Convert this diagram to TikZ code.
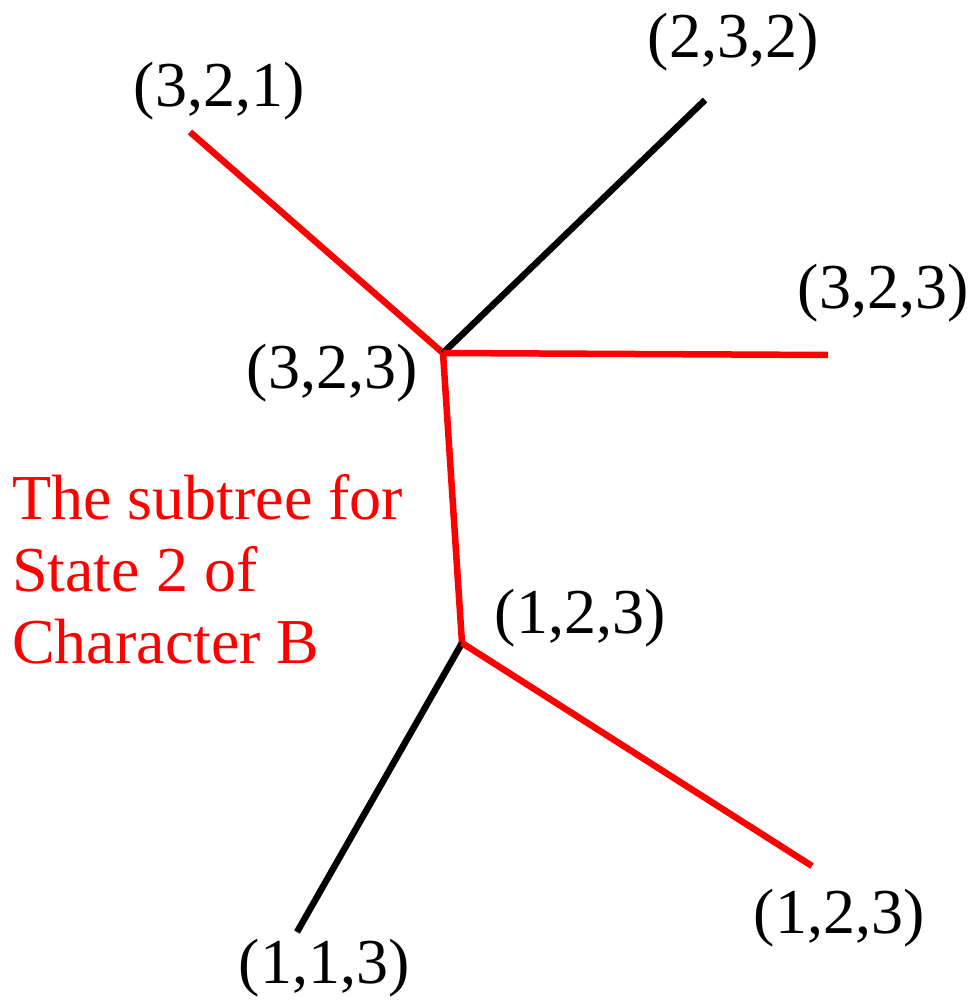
\documentclass[tikz,border=0pt]{standalone}
\usepackage{fontspec}
\setmainfont{Liberation Serif}
\begin{document}
\begin{tikzpicture}[x=1pt,y=-1pt,
  edge/.style={line width=6.5pt},
  rededge/.style={edge,draw=red},
  blackedge/.style={edge,draw=black},
  lab/.style={font=\fontsize{64}{72}\selectfont,inner sep=0pt},
  note/.style={font=\fontsize{64}{72}\selectfont,text=red,align=left,anchor=north west,inner sep=0pt}]
\useasboundingbox (0,0) rectangle (971,1003);
\coordinate (A) at (443,353);
\coordinate (B) at (462,643);
\coordinate (l321) at (190,132);
\coordinate (l232) at (705,100);
\coordinate (l323) at (828,355);
\coordinate (l113) at (297,932);
\coordinate (l123) at (812,866);
\draw[rededge] (l321) -- (A);
\draw[blackedge] (A) -- (l232);
\draw[rededge] (A) -- (l323);
\draw[rededge] (A) -- (B);
\draw[blackedge] (B) -- (l113);
\draw[rededge] (B) -- (l123);
\node[lab] (t321) at (219,91) {(3,2,1)};
\node[lab] (t232) at (733,42) {(2,3,2)};
\node[lab] (t323r) at (883,293) {(3,2,3)};
\node[lab] (t323l) at (332,373) {(3,2,3)};
\node[lab] (t123m) at (580,618) {(1,2,3)};
\node[lab] (t123b) at (839,918) {(1,2,3)};
\node[lab] (t113) at (324,968) {(1,1,3)};
\node[note] (nt) at (12,474) {The subtree for\\State 2 of\\Character B};
\end{tikzpicture}
\end{document}
